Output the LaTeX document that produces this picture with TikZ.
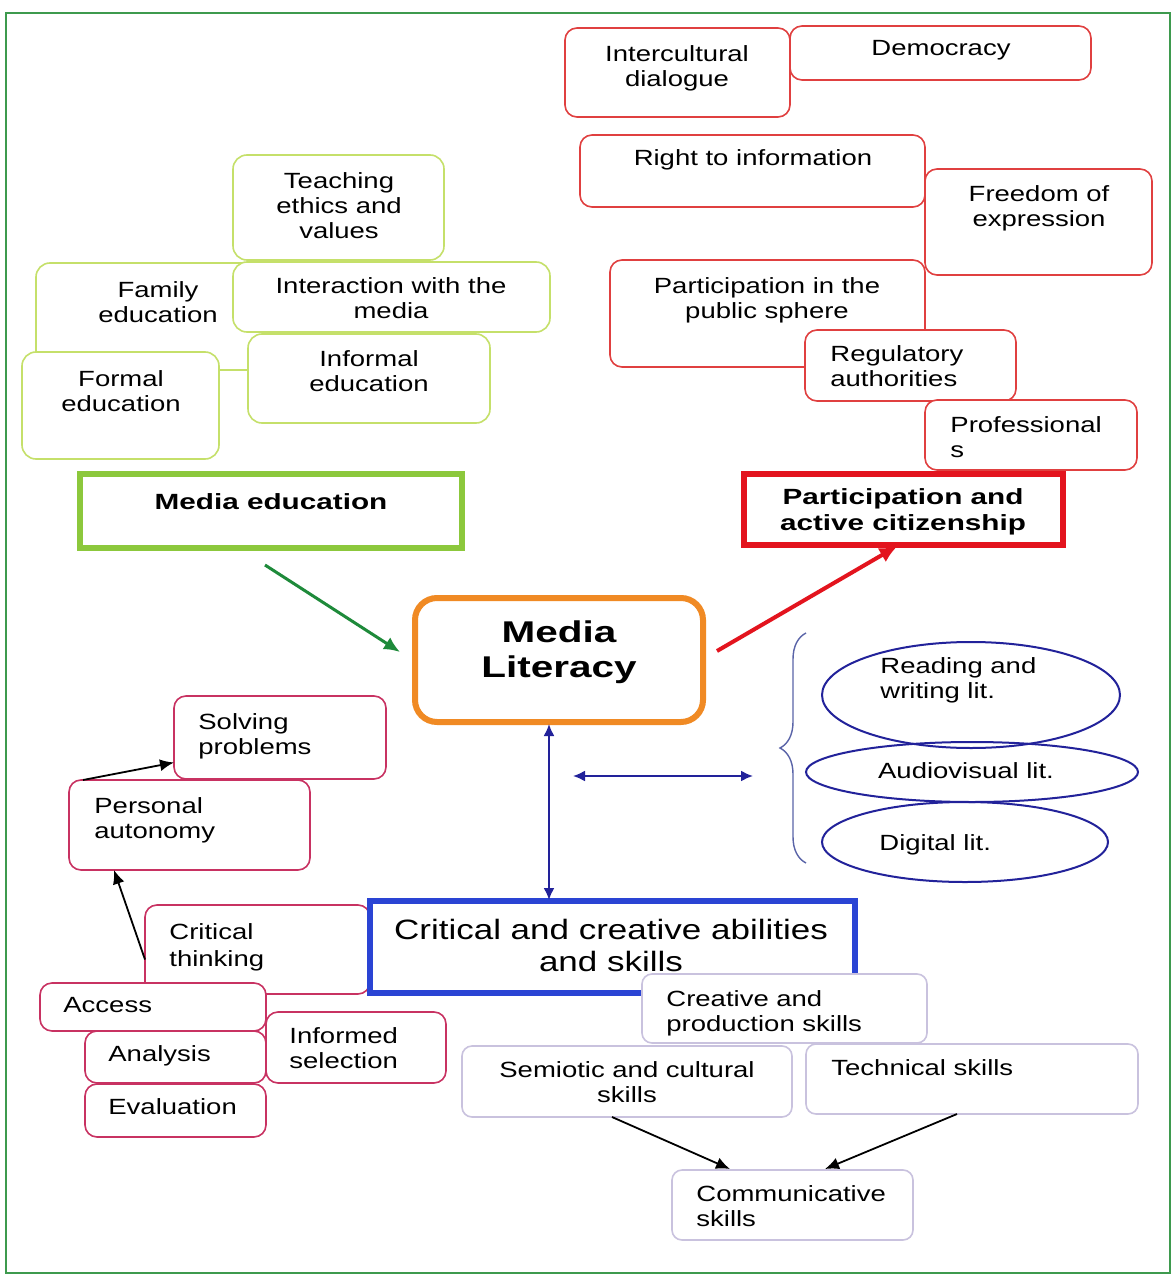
\documentclass[tikz,border=0pt]{standalone}
\usepackage{fontspec}
\setmainfont{Liberation Sans}[FakeStretch=1.25]
\newfontfamily\titlefont{Liberation Sans}[FakeStretch=1.35]
\usetikzlibrary{shapes.geometric,arrows.meta,decorations.pathreplacing,calc}
\definecolor{frameG}{HTML}{3E9A4E}
\definecolor{lgreen}{HTML}{C5E06A}
\definecolor{mgreen}{HTML}{8CC83C}
\definecolor{dgreen}{HTML}{1E8A3A}
\definecolor{lred}{HTML}{E04040}
\definecolor{sred}{HTML}{E3141E}
\definecolor{orng}{HTML}{F08A24}
\definecolor{navy}{HTML}{22229A}
\definecolor{bbox}{HTML}{2A44D4}
\definecolor{pinkc}{HTML}{C83262}
\definecolor{lav}{HTML}{C9C2DE}
\definecolor{brc}{HTML}{5A64A8}
\newcommand{\rbx}[6]{\node[#1, minimum width={(#5-#3)*0.5pt}, minimum height={(#6-#4)*0.5pt}] (#2) at ({(#3+#5)/2},{(#4+#6)/2}) {};}
\tikzset{
  boxbase/.style={rectangle, fill=white, inner sep=0pt, outer sep=0pt},
  gbox/.style={boxbase, draw=lgreen, line width=0.8pt, rounded corners=7pt},
  rbox/.style={boxbase, draw=lred, line width=0.8pt, rounded corners=6pt},
  pbox/.style={boxbase, draw=pinkc, line width=0.8pt, rounded corners=6pt},
  lbox/.style={boxbase, draw=lav, line width=0.8pt, rounded corners=5pt},
  ell/.style={ellipse, draw=navy, line width=1pt, inner sep=0pt},
  txt/.style={inner sep=0pt, font=\fontsize{11}{12.5}\selectfont, text=black},
  ctxt/.style={txt, anchor=north, align=center},
  ltxt/.style={txt, anchor=north west, align=left},
  ttl/.style={inner sep=0pt, anchor=north, align=center, text=black, font=\titlefont\bfseries\fontsize{11}{13}\selectfont},
  blk/.style={black, line width=0.9pt, -{Latex[length=7pt,width=6pt]}},
  nav/.style={navy, line width=1pt, {Latex[length=6pt,width=5.5pt]}-{Latex[length=6pt,width=5.5pt]}}
}
\begin{document}
\begin{tikzpicture}[x=0.5pt,y=-0.5pt]
\useasboundingbox (0,0) rectangle (1174,1278);
\fill[white] (0,0) rectangle (1174,1278);
\draw[frameG, line width=1.2pt] (6,13) rectangle (1170,1273);

% green group
\rbx{gbox}{fam}{36}{263}{300}{370}
\rbx{gbox}{teach}{233}{155}{444}{260}
\rbx{gbox}{inter}{233}{262}{550}{332}
\rbx{gbox}{informal}{248}{334}{490}{423}
\rbx{gbox}{formal}{22}{352}{219}{459}
\node[ctxt] (teach-t) at (339,172) {Teaching\\ethics and\\values};
\node[ctxt] (fam-t) at (158,281) {Family\\education};
\node[ctxt] (inter-t) at (391,277) {Interaction with the\\media};
\node[ctxt] (formal-t) at (121,370) {Formal\\education};
\node[ctxt] (informal-t) at (369,350) {Informal\\education};
\rbx{boxbase, draw=mgreen, line width=3pt}{me}{80}{474}{462}{548}
\node[ttl] (me-t) at (271,493) {Media education};

% red group
\rbx{rbox}{right}{580}{135}{925}{207}
\rbx{rbox}{freedom}{925}{169}{1152}{275}
\rbx{rbox}{partpub}{610}{260}{925}{367}
\rbx{rbox}{regul}{805}{330}{1016}{401}
\rbx{rbox}{prof}{925}{400}{1137}{470}
\rbx{rbox}{democ}{790}{26}{1091}{80}
\rbx{rbox}{interc}{565}{28}{790}{117}
\node[ctxt] (interc-t) at (677,45) {Intercultural\\dialogue};
\node[ctxt] (democ-t) at (941,40) {Democracy};
\node[ctxt] (right-t) at (753,149) {Right to information};
\node[ctxt] (freedom-t) at (1039,185) {Freedom of\\expression};
\node[ctxt] (partpub-t) at (767,277) {Participation in the\\public sphere};
\node[ltxt] (regul-t) at (830,345) {Regulatory\\authorities};
\node[ltxt] (prof-t) at (950,416) {Professional\\s};
\rbx{boxbase, draw=sred, line width=3pt}{pac}{744}{474}{1063}{545}
\node[ttl] (pac-t) at (903,488) {Participation and\\active citizenship};

% centre
\rbx{boxbase, draw=orng, line width=3pt, rounded corners=11pt}{ml}{415}{598}{703}{722}
\node[ttl, font=\titlefont\bfseries\fontsize{15}{17.5}\selectfont] (ml-t) at (559,620) {Media\\Literacy};

\coordinate (g1) at (265,565);
\coordinate (g2) at (400,652);
\draw[dgreen, line width=1.5pt, -{Latex[length=8pt,width=7pt]}] (g1) -- (g2);
\coordinate (r1) at (717,651);
\draw[sred, line width=2pt, -{Latex[length=9pt,width=8pt]}] (r1) -- ($(pac.south)+(-6,1)$);

% literacies
\node[ell, minimum width=149pt, minimum height=53pt] (rw) at (971,695) {};
\node[ell, minimum width=166pt, minimum height=30pt] (av) at (972,772) {};
\node[ell, minimum width=143pt, minimum height=40pt] (dg) at (965,842) {};
\node[ltxt] (rw-t) at (880,657) {Reading and\\writing lit.};
\node[ctxt] (av-t) at (966,762) {Audiovisual lit.};
\node[ltxt] (dg-t) at (879,834) {Digital lit.};
\coordinate (b1) at (806,863);
\coordinate (b2) at (806,633);
\draw[brc, line width=0.7pt, decorate, decoration={brace, amplitude=13pt}] (b1) -- (b2);
\coordinate (h1) at (573,776);
\coordinate (h2) at (753,776);
\draw[nav] (h1) -- (h2);

% pink group
\rbx{pbox}{solve}{174}{696}{386}{779}
\rbx{pbox}{pers}{69}{780}{310}{870}
\rbx{pbox}{crit}{145}{905}{370}{994}
\rbx{pbox}{access}{40}{983}{266}{1031}
\rbx{pbox}{analysis}{85}{1031}{266}{1083}
\rbx{pbox}{eval}{85}{1084}{266}{1137}
\rbx{pbox}{informed}{266}{1012}{446}{1083}
\node[ltxt] (solve-t) at (198,713) {Solving\\problems};
\node[ltxt] (pers-t) at (94,797) {Personal\\autonomy};
\node[ltxt, font=\fontsize{11}{13.5}\selectfont] (crit-t) at (169,923) {Critical\\thinking};
\node[ltxt] (access-t) at (63,997) {Access};
\node[ltxt] (analysis-t) at (108,1045) {Analysis};
\node[ltxt] (eval-t) at (108,1098) {Evaluation};
\node[ltxt] (informed-t) at (289,1027) {Informed\\selection};
\draw[blk] ($(pers.north west)+(14,0)$) -- ($(solve.west)+(0,25)$);
\draw[blk] ($(crit.west)+(0,10)$) -- ($(pers.south west)+(45,0)$);

% blue box
\rbx{boxbase, draw=bbox, line width=3pt}{cc}{370}{901}{855}{993}
\node[ctxt, font=\fontsize{14}{16}\selectfont] (cc-t) at (611,919) {Critical and creative abilities\\and skills};
\draw[nav] ($(ml.south)+(-10,2)$) -- ($(cc.north)+(-63.5,-1)$);

% lavender group
\rbx{lbox}{creat}{642}{974}{927}{1043}
\rbx{lbox}{semio}{462}{1046}{792}{1117}
\rbx{lbox}{tech}{806}{1044}{1138}{1114}
\rbx{lbox}{comm}{672}{1170}{913}{1240}
\node[ltxt] (creat-t) at (666,990) {Creative and\\production skills};
\node[ctxt] (semio-t) at (627,1061) {Semiotic and cultural\\skills};
\node[ltxt] (tech-t) at (831,1059) {Technical skills};
\node[ltxt] (comm-t) at (696,1185) {Communicative\\skills};
\draw[blk] ($(semio.south)+(-15,0)$) -- ($(comm.north)+(-62.5,-1)$);
\draw[blk] ($(tech.south)+(-15,0)$) -- ($(comm.north)+(32.5,-1)$);
\end{tikzpicture}
\end{document}
